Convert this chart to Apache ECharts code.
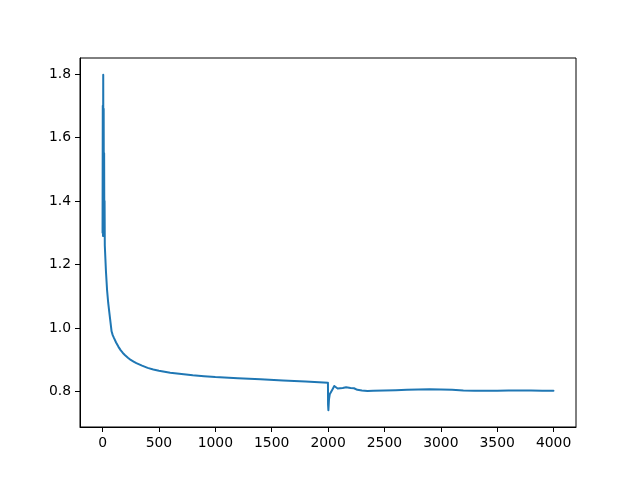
<!DOCTYPE html>
<html>
<head>
<meta charset="utf-8">
<script src="https://cdn.jsdelivr.net/npm/echarts@6/dist/echarts.min.js"></script>
<style>html,body{margin:0;padding:0;background:#fff;}#c{width:640px;height:480px;}</style>
</head>
<body>
<div id="c"></div>
<script>
const xs = [0,2,4,6,8,10,12,14,16,18,20,25,30,40,50,60,70,80,90,100,120,140,160,180,200,225,250,275,300,350,400,450,500,600,700,800,900,1000,1200,1400,1600,1800,1999,2000,2003,2008,2015,2025,2040,2055,2070,2085,2100,2130,2160,2200,2230,2260,2300,2350,2400,2500,2600,2700,2800,2900,3000,3100,3200,3300,3400,3500,3600,3700,3800,3900,3999];
const ys = [1.30,1.70,1.29,1.797,1.31,1.69,1.29,1.55,1.30,1.40,1.26,1.22,1.18,1.12,1.08,1.05,1.02,0.99,0.978,0.970,0.955,0.942,0.931,0.922,0.915,0.907,0.90,0.895,0.89,0.882,0.875,0.870,0.866,0.860,0.856,0.852,0.849,0.846,0.842,0.839,0.835,0.832,0.828,0.760,0.742,0.775,0.792,0.798,0.808,0.818,0.815,0.810,0.812,0.812,0.814,0.812,0.811,0.806,0.804,0.802,0.803,0.804,0.805,0.806,0.807,0.808,0.807,0.806,0.804,0.803,0.803,0.803,0.804,0.804,0.804,0.803,0.803];
const xTicks = [0,500,1000,1500,2000,2500,3000,3500,4000];
const yTicks = [0.8,1.0,1.2,1.4,1.6,1.8];

const chart = echarts.init(document.getElementById('c'), null, {renderer:'canvas'});
const font = {fontFamily:'DejaVu Sans', fontSize:13.9, color:'#000'};
chart.setOption({
  animation:false,
  backgroundColor:'#fff',
  grid:{left:80, right:64, top:58, bottom:53, show:true, borderColor:'#000', borderWidth:1, backgroundColor:'transparent'},
  xAxis:{type:'value', min:-200, max:4199,
    axisLine:{show:true, onZero:false, lineStyle:{color:'#000', width:1}},
    axisTick:{show:true, length:5, inside:false, customValues:xTicks, lineStyle:{color:'#000'}},
    axisLabel:Object.assign({margin:9, customValues:xTicks, formatter:v=>String(v)}, font),
    splitLine:{show:false}},
  yAxis:{type:'value', min:0.689, max:1.850,
    axisLine:{show:true, onZero:false, lineStyle:{color:'#000', width:1}},
    axisTick:{show:true, length:5, inside:false, customValues:yTicks, lineStyle:{color:'#000'}},
    axisLabel:Object.assign({margin:9, customValues:yTicks, formatter:v=>v.toFixed(1)}, font),
    splitLine:{show:false}},
  series:[{type:'line', showSymbol:false, data:xs.map((x,i)=>[x,ys[i]]),
    lineStyle:{color:'#1f77b4', width:2, join:'round', cap:'round'}, itemStyle:{color:'#1f77b4'}}]
});
</script>
</body>
</html>
